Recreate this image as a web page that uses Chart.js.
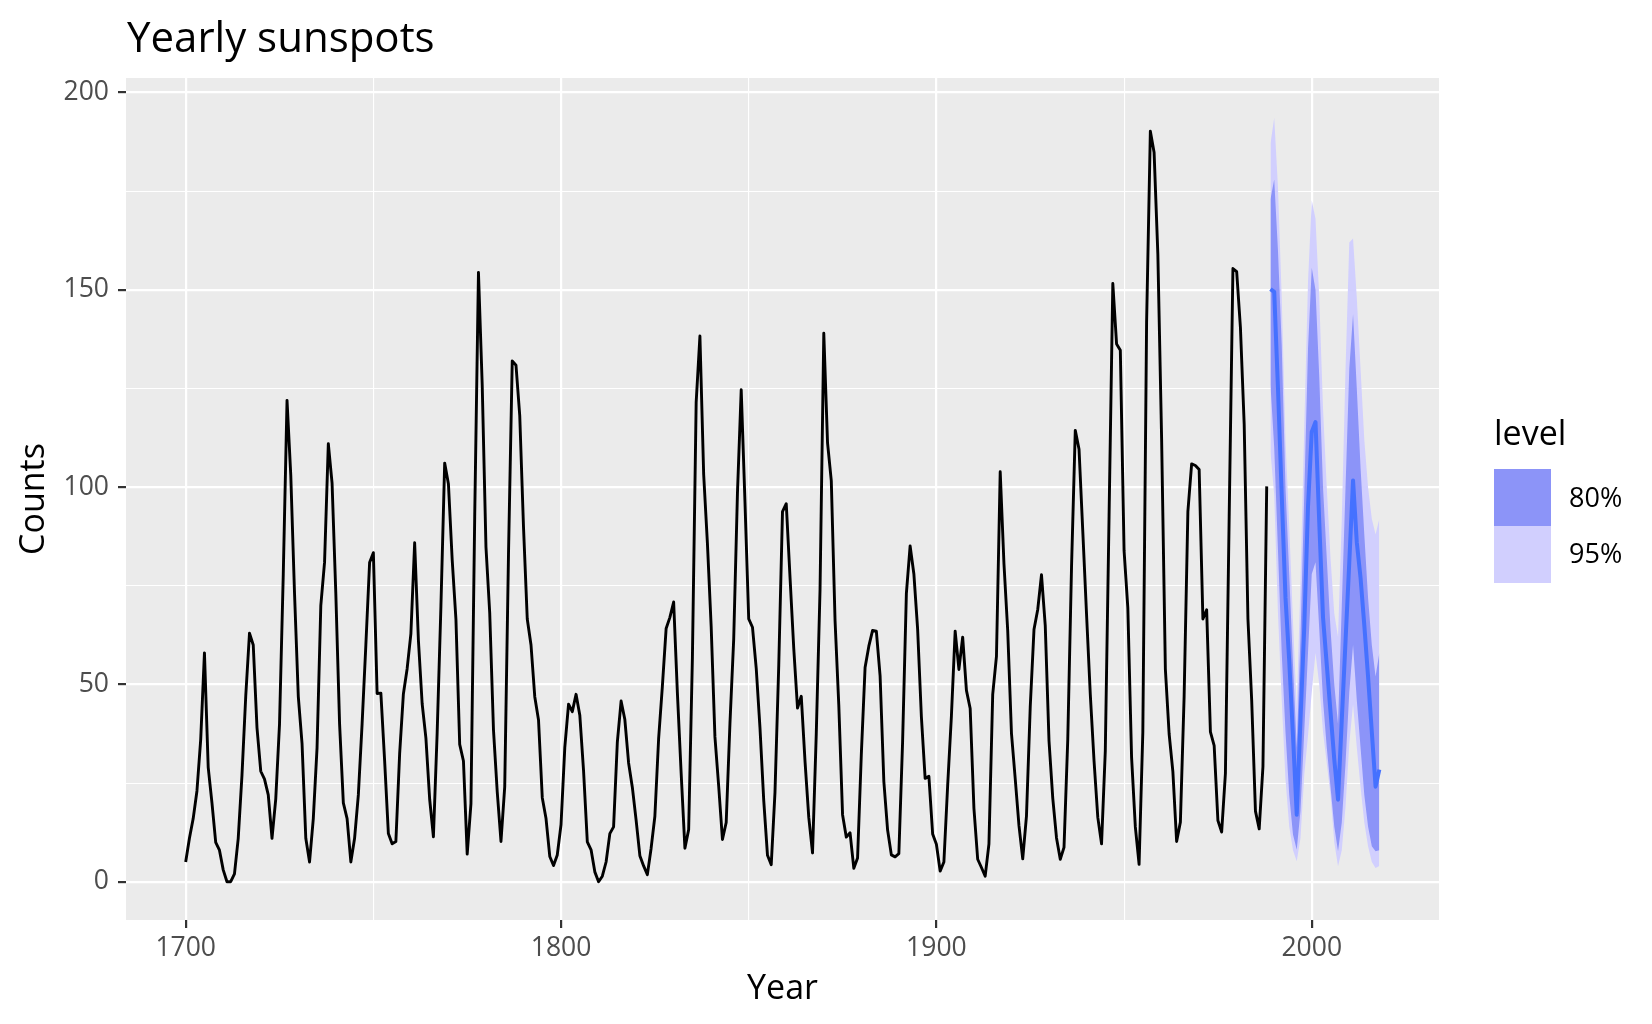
<!DOCTYPE html>
<html>
<head>
<meta charset="utf-8">
<script src="https://cdn.jsdelivr.net/npm/chart.js@4.4.1/dist/chart.umd.min.js"></script>
<style>
  html, body { margin: 0; padding: 0; background: #fff; }
  #wrap { position: relative; width: 1652px; height: 1024px; font-family: 'Open Sans', sans-serif; }
  #title { position: absolute; left: 127px; top: 7px; font-size: 42px; line-height: normal; color: #000; white-space: nowrap; }
  .lg-title { position: absolute; left: 1494px; top: 409px; font-size: 34px; line-height: normal; color: #000; }
  .lg-key { position: absolute; left: 1494px; width: 57px; height: 57px; }
  .lg-label { position: absolute; left: 1569px; font-size: 27px; line-height: normal; color: #000; }
</style>
</head>
<body>
<div id="wrap">
  <canvas id="myChart" width="1652" height="1024"></canvas>
  <div id="title">Yearly sunspots</div>
  <div class="lg-title">level</div>
  <div class="lg-key" style="top:469px; background:#8C94F8;"></div>
  <div class="lg-key" style="top:526px; background:#D1CFFE;"></div>
  <div class="lg-label" style="top:478px;">80%</div>
  <div class="lg-label" style="top:534px;">95%</div>
</div>
<script>
// yearly sunspot numbers, 1700 - 1988
const firstYear = 1700;
const sunspots = [
  5.0, 11.0, 16.0, 23.0, 36.0, 58.0, 29.0, 20.0, 10.0, 8.0,
  3.0, 0.0, 0.0, 2.0, 11.0, 27.0, 47.0, 63.0, 60.0, 39.0,
  28.0, 26.0, 22.0, 11.0, 21.0, 40.0, 78.0, 122.0, 103.0, 73.0,
  47.0, 35.0, 11.0, 5.0, 16.0, 34.0, 70.0, 81.0, 111.0, 101.0,
  73.0, 40.0, 20.0, 16.0, 5.0, 11.0, 22.0, 40.0, 60.0, 80.9,
  83.4, 47.7, 47.8, 30.7, 12.2, 9.6, 10.2, 32.4, 47.6, 54.0,
  62.9, 85.9, 61.2, 45.1, 36.4, 20.9, 11.4, 37.8, 69.8, 106.1,
  100.8, 81.6, 66.5, 34.8, 30.6, 7.0, 19.8, 92.5, 154.4, 125.9,
  84.8, 68.1, 38.5, 22.8, 10.2, 24.1, 82.9, 132.0, 130.9, 118.1,
  89.9, 66.6, 60.0, 46.9, 41.0, 21.3, 16.0, 6.4, 4.1, 6.8,
  14.5, 34.0, 45.0, 43.1, 47.5, 42.2, 28.1, 10.1, 8.1, 2.5,
  0.0, 1.4, 5.0, 12.2, 13.9, 35.4, 45.8, 41.1, 30.1, 23.9,
  15.6, 6.6, 4.0, 1.8, 8.5, 16.6, 36.3, 49.6, 64.2, 67.0,
  70.9, 47.8, 27.5, 8.5, 13.2, 56.9, 121.5, 138.3, 103.2, 85.7,
  64.6, 36.7, 24.2, 10.7, 15.0, 40.1, 61.5, 98.5, 124.7, 96.3,
  66.6, 64.5, 54.1, 39.0, 20.6, 6.7, 4.3, 22.7, 54.8, 93.8,
  95.8, 77.2, 59.1, 44.0, 47.0, 30.5, 16.3, 7.3, 37.6, 74.0,
  139.0, 111.2, 101.6, 66.2, 44.7, 17.0, 11.3, 12.4, 3.4, 6.0,
  32.3, 54.3, 59.7, 63.7, 63.5, 52.2, 25.4, 13.1, 6.8, 6.3,
  7.1, 35.6, 73.0, 85.1, 78.0, 64.0, 41.8, 26.2, 26.7, 12.1,
  9.5, 2.7, 5.0, 24.4, 42.0, 63.5, 53.8, 62.0, 48.5, 43.9,
  18.6, 5.7, 3.6, 1.4, 9.6, 47.4, 57.1, 103.9, 80.6, 63.6,
  37.6, 26.1, 14.2, 5.8, 16.7, 44.3, 63.9, 69.0, 77.8, 64.9,
  35.7, 21.2, 11.1, 5.7, 8.7, 36.1, 79.7, 114.4, 109.6, 88.8,
  67.8, 47.5, 30.6, 16.3, 9.6, 33.2, 92.6, 151.6, 136.3, 134.7,
  83.9, 69.4, 31.5, 13.9, 4.4, 38.0, 141.7, 190.2, 184.8, 159.0,
  112.3, 53.9, 37.5, 27.9, 10.2, 15.1, 47.0, 93.8, 105.9, 105.5,
  104.5, 66.6, 68.9, 38.0, 34.5, 15.5, 12.6, 27.5, 92.5, 155.4,
  154.6, 140.4, 115.9, 66.6, 45.9, 17.9, 13.4, 29.2, 100.2
];

// forecast 1989 - 2018
const fcFirstYear = 1989;
const fcMean = [150.2, 149.5, 125, 98, 72, 56, 37, 17, 41, 64.5,
  95, 114, 116.5, 91, 67, 55, 43, 31, 20.8, 41,
  61, 81, 101.7, 86, 77, 65, 52, 38, 24.1, 28.4];
const lo80 = [126, 110, 84, 58, 38, 22, 12, 8.1, 18, 38,
  58, 78, 81, 64, 46, 34, 24, 14, 7.7, 15,
  30, 48, 60, 46, 34, 22, 14, 9, 7.7, 8];
const hi80 = [173, 178, 160, 136, 100, 78, 55, 34, 62, 98,
  135, 155.6, 150, 128, 100, 82, 64, 50, 40, 70,
  100, 130, 143.8, 125, 105, 88, 72, 60, 52, 58];
const lo95 = [109, 98, 68, 46, 26, 14, 8, 5.2, 11, 27,
  37, 48, 58, 50, 38, 30, 22, 10, 3.9, 8,
  19, 35, 45, 34, 24, 15, 9, 5, 3.5, 4];
const hi95 = [187, 193.6, 176, 148, 112, 90, 66, 44, 76, 115,
  152, 172.7, 168, 148, 120, 100, 82, 68, 62, 92,
  130, 162, 163, 148, 130, 112, 100, 92, 88, 92];

const xTicks = [1700, 1750, 1800, 1850, 1900, 1950, 2000];
const yTicks = [0, 25, 50, 75, 100, 125, 150, 175, 200];
const xMajor = [1700, 1800, 1900, 2000];
const yMajor = [0, 50, 100, 150, 200];

const history = sunspots.map((v, i) => ({x: firstYear + i, y: v}));
const fc = arr => arr.map((v, i) => ({x: fcFirstYear + i, y: v}));

const fontFam = "'Open Sans', sans-serif";
const none = 'rgba(0,0,0,0)';

const panelBg = {
  id: 'panelBg',
  beforeDraw(chart) {
    const {ctx, chartArea: a} = chart;
    ctx.save();
    ctx.fillStyle = '#EBEBEB';
    ctx.fillRect(a.left, a.top, a.right - a.left, a.bottom - a.top);
    ctx.restore();
  }
};

const data = {
  datasets: [
    {label: 'history', data: history, borderColor: '#000', borderWidth: 2.9, pointRadius: 0, fill: false, order: 0, borderJoinStyle: 'round'},
    {label: 'mean', data: fc(fcMean), borderColor: '#4571FF', borderWidth: 4, pointRadius: 0, fill: false, order: 1, borderJoinStyle: 'round'},
    {label: '80%', data: fc(hi80), borderColor: none, borderWidth: 0, pointRadius: 0, fill: '+1', backgroundColor: '#8C94F8', order: 2},
    {label: 'lo80', data: fc(lo80), borderColor: none, borderWidth: 0, pointRadius: 0, fill: false, order: 3},
    {label: '95%', data: fc(hi95), borderColor: none, borderWidth: 0, pointRadius: 0, fill: '+1', backgroundColor: '#D1CFFE', order: 4},
    {label: 'lo95', data: fc(lo95), borderColor: none, borderWidth: 0, pointRadius: 0, fill: false, order: 5}
  ]
};

const config = {
  type: 'line',
  data,
  plugins: [panelBg],
  options: {
    responsive: false,
    animation: false,
    devicePixelRatio: 1,
    layout: { padding: {left: 0, top: 78, right: 213, bottom: 0} },
    plugins: { legend: {display: false}, tooltip: {enabled: false} },
    scales: {
      x: {
        type: 'linear',
        min: 1684.1,
        max: 2033.9,
        afterBuildTicks: axis => { axis.ticks = xTicks.map(v => ({value: v})); },
        afterFit: scale => { scale.height = 104; },
        border: {display: false},
        grid: {
          color: '#FFFFFF',
          lineWidth: ctx => xMajor.includes(ctx.tick.value) ? 2.2 : 1.1,
          tickColor: ctx => xMajor.includes(ctx.tick.value) ? '#333333' : none,
          tickLength: 8,
          tickWidth: 2.2
        },
        ticks: {
          autoSkip: false,
          maxRotation: 0,
          color: '#4D4D4D',
          padding: 5,
          font: {family: fontFam, size: 26.5},
          callback: v => xMajor.includes(v) ? String(v) : ''
        },
        title: {display: true, text: 'Year', color: '#000', font: {family: fontFam, size: 34}, padding: {top: 0, bottom: 14}}
      },
      y: {
        min: -9.7,
        max: 203.7,
        afterBuildTicks: axis => { axis.ticks = yTicks.map(v => ({value: v})); },
        afterFit: scale => { scale.width = 126; },
        border: {display: false},
        grid: {
          color: '#FFFFFF',
          lineWidth: ctx => yMajor.includes(ctx.tick.value) ? 2.2 : 1.1,
          tickColor: ctx => yMajor.includes(ctx.tick.value) ? '#333333' : none,
          tickLength: 8,
          tickWidth: 2.2
        },
        ticks: {
          autoSkip: false,
          color: '#4D4D4D',
          padding: 9,
          font: {family: fontFam, size: 26.5},
          callback: v => yMajor.includes(v) ? String(v) : ''
        },
        title: {display: true, text: 'Counts', color: '#000', font: {family: fontFam, size: 34}, padding: {top: 14, bottom: 0}}
      }
    }
  }
};

const myChart = new Chart(document.getElementById('myChart'), config);
</script>
</body>
</html>
